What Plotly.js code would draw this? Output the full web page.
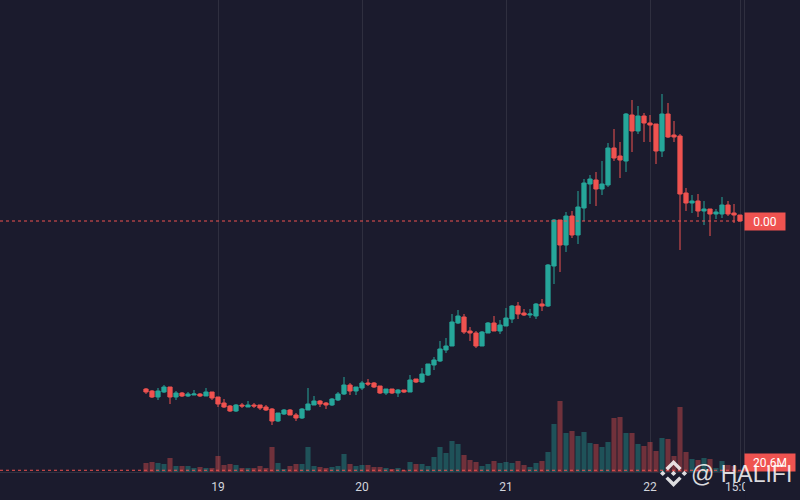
<!DOCTYPE html>
<html><head><meta charset="utf-8">
<script src="https://cdn.plot.ly/plotly-3.0.1.min.js"></script>
<style>html,body{margin:0;padding:0;background:#1b1b2d;}#chart{width:800px;height:500px;}</style>
</head><body><div id="chart"></div>
<script>
// Hourly candles, 18th 12:00 -> 22nd 15:00
const START_UTC = Date.UTC(2024, 2, 18, 12);
const PRICE_UNIT = 1e-5; // price arrays below are in units of 0.00001

const openP = [111,109,103,108,113,103,107,104,105,106,
  104,108,103,97,94,89,95,93,95,95,
  93,91,79,86,90,85,82,90,95,99,
  97,95,100,106,115,109,112,117,117,114,
  107,111,107,110,108,121,118,125,135,139,
  150,154,177,183,169,167,154,167,177,169,
  174,181,194,187,185,184,196,194,234,280,
  255,284,265,292,316,320,311,315,352,344,
  339,385,369,384,377,376,349,386,365,364,
  307,297,299,289,291,286,286,295,287,285];
const highP = [112,110,112,115,113,109,108,108,110,107,
  112,108,103,101,95,96,97,99,97,95,
  95,92,87,91,91,87,92,112,104,100,
  98,102,108,123,117,113,119,121,118,114,
  111,111,111,110,125,121,132,136,143,159,
  162,186,190,186,173,169,169,178,184,180,
  192,195,198,191,191,197,201,236,281,280,
  288,289,309,321,325,328,339,357,371,358,
  387,400,394,387,385,376,406,397,379,366,
  312,305,306,299,291,291,303,299,296,285];
const lowP = [106,102,100,107,96,100,103,103,105,103,
  104,100,93,92,88,88,92,93,92,90,
  89,75,78,85,85,79,81,90,95,93,
  91,94,99,105,105,105,110,114,112,106,
  105,106,103,107,108,117,117,124,130,138,
  147,154,176,166,159,152,154,167,169,166,
  174,177,181,184,182,181,189,193,216,228,
  248,262,256,279,296,294,305,313,339,322,
  328,348,366,358,358,336,343,362,358,250,
  289,287,283,275,264,281,282,284,277,279];
const closeP = [108,103,109,113,103,107,104,106,106,104,
  108,102,96,93,89,95,94,95,94,92,
  90,79,87,90,85,82,91,96,99,96,
  95,101,106,115,109,113,117,116,113,107,
  111,107,110,108,120,118,126,136,140,151,
  154,178,184,168,167,154,168,177,169,175,
  182,194,186,185,186,196,194,235,280,255,
  284,265,293,317,321,311,316,352,342,340,
  386,369,384,377,375,349,386,363,363,306,
  297,299,289,291,286,288,295,286,285,279];
const volumeM = [108,120,108,96,168,72,72,72,48,60,
  48,48,192,84,96,84,48,48,48,72,
  48,300,108,36,72,96,96,300,72,60,
  48,60,72,216,96,72,84,84,60,60,
  48,36,48,24,120,96,96,72,180,300,
  228,372,336,204,144,120,72,96,132,108,
  120,108,132,84,60,108,132,240,576,852,
  468,492,432,480,348,336,300,360,648,660,
  468,468,336,312,360,252,408,396,192,780,
  240,156,144,168,156,48,132,84,72,20.6];

const tickVals = ['2024-03-19 00:00','2024-03-20 00:00','2024-03-21 00:00','2024-03-22 00:00','2024-03-22 15:00'];
const tickText = ['19','20','21','22','15:00'];

const BG = '#1b1b2d';
const UP = '#26a69a', DOWN = '#ef5350';
const UP_VOL = 'rgba(38,166,154,0.4)', DOWN_VOL = 'rgba(239,83,80,0.4)';
const GRID = 'rgba(255,255,255,0.09)';

const times = openP.map((_, i) => new Date(START_UTC + i * 3600e3).toISOString().slice(0,16).replace('T',' '));
const o = openP.map(v => v * PRICE_UNIT), h = highP.map(v => v * PRICE_UNIT),
      l = lowP.map(v => v * PRICE_UNIT), c = closeP.map(v => v * PRICE_UNIT);
const volColors = closeP.map((v, i) => v >= openP[i] ? UP_VOL : DOWN_VOL);
const last = c.length - 1;
const lastUp = c[last] >= o[last];

const traces = [
  {type:'bar', x:times, y:volumeM, yaxis:'y2', marker:{color:volColors, line:{width:0}}, hoverinfo:'skip'},
  {type:'candlestick', x:times, open:o, high:h, low:l, close:c,
   increasing:{line:{color:UP, width:1}, fillcolor:UP},
   decreasing:{line:{color:DOWN, width:1}, fillcolor:DOWN},
   whiskerwidth:0, hoverinfo:'skip'}
];

function poly(pts, s){ return 'M' + pts.map(p => (p[0]*s).toFixed(2)+','+(p[1]*s).toFixed(2)).join(' L') + ' Z'; }
const logoParts = [
  [[0,0.2],[0.2,0],[0,-0.2],[-0.2,0]],
  [[-0.8,0.2],[-0.6,0],[-0.8,-0.2],[-1,0]],
  [[0.8,0.2],[1,0],[0.8,-0.2],[0.6,0]],
  [[0,1],[0.6,0.4],[0.42,0.22],[0,0.64],[-0.42,0.22],[-0.6,0.4]],
  [[0,-1],[0.6,-0.4],[0.42,-0.22],[0,-0.64],[-0.42,-0.22],[-0.6,-0.4]]
];
const logoShapes = logoParts.map(p => ({type:'path', xref:'paper', yref:'paper', xsizemode:'pixel', ysizemode:'pixel',
  xanchor:0.9053, yanchor:-0.003, path:poly(p, 13.5), fillcolor:'rgba(255,255,255,0.85)', line:{width:0}, layer:'above'}));

const layout = {
  width:800, height:500,
  paper_bgcolor:BG, plot_bgcolor:BG,
  margin:{l:0, r:56, t:0, b:28},
  showlegend:false, hovermode:false, dragmode:false,
  bargap:0.15, boxgap:0.3, boxgroupgap:0,
  font:{family:'Roboto, sans-serif', color:'#d1d4dc', size:12},
  xaxis:{type:'date', range:['2024-03-17 11:40','2024-03-22 15:40'], rangeslider:{visible:false},
    tickmode:'array', tickvals:tickVals, ticktext:tickText, ticks:'', ticklabelstandoff:4,
    showgrid:true, gridcolor:GRID, gridwidth:1, zeroline:false,
    showline:true, linecolor:GRID, linewidth:1,
    tickfont:{family:'Roboto, sans-serif', size:12, color:'#d1d4dc'}, fixedrange:true},
  yaxis:{range:[0.00028, 0.005], side:'right', showgrid:false, zeroline:false, showticklabels:false,
    showline:true, linecolor:GRID, linewidth:1, fixedrange:true},
  yaxis2:{overlaying:'y', range:[0, 5664], showgrid:false, zeroline:false, showticklabels:false, fixedrange:true},
  shapes:[
    {type:'line', xref:'paper', x0:0, x1:1, yref:'y', y0:c[last], y1:c[last], line:{color:lastUp?UP:DOWN, width:1, dash:'3px,3px'}, layer:'above'},
    {type:'line', xref:'paper', x0:0, x1:1, yref:'y2', y0:volumeM[last], y1:volumeM[last], line:{color:lastUp?UP:DOWN, width:1, dash:'3px,3px'}, layer:'above'},
    {type:'rect', xref:'paper', yref:'paper', x0:1.0015, x1:1.08, y0:-0.06, y1:-0.001, fillcolor:BG, line:{width:0}, layer:'above'}
  ].concat(logoShapes),
  annotations:[
    {xref:'paper', x:1, xanchor:'left', yref:'y', y:c[last], yanchor:'middle', text:c[last].toFixed(2),
     showarrow:false, bgcolor:lastUp?UP:DOWN, width:40, height:17, borderpad:0,
     font:{family:'Roboto, sans-serif', size:12, color:'#ffffff'}},
    {xref:'paper', x:1, xanchor:'left', yref:'paper', y:0, yanchor:'bottom', text:volumeM[last].toFixed(1)+'M',
     showarrow:false, bgcolor:lastUp?UP:DOWN, width:50, height:17, borderpad:0,
     font:{family:'Roboto, sans-serif', size:12, color:'#ffffff'}},
    {xref:'paper', x:0.9973, xanchor:'center', yref:'paper', y:-0.004, yanchor:'middle', text:'@ HALIFI',
     showarrow:false, font:{family:'Liberation Sans, Arial, sans-serif', size:23, color:'rgba(255,255,255,0.85)'}}
  ]
};

Plotly.newPlot('chart', traces, layout, {displayModeBar:false, staticPlot:true});
</script>
</body></html>
